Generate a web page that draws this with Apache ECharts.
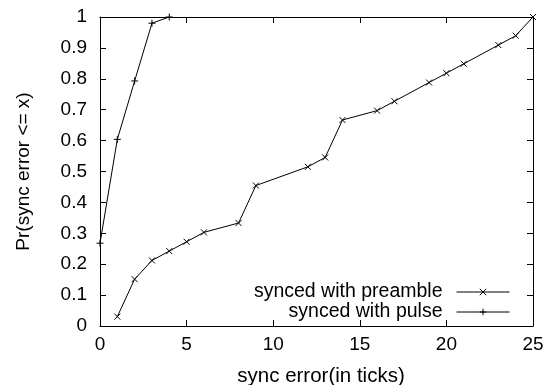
<!DOCTYPE html>
<html>
<head>
<meta charset="utf-8">
<script src="https://cdn.jsdelivr.net/npm/echarts@6/dist/echarts.min.js"></script>
<style>html,body{margin:0;padding:0;background:#fff;}#c{width:548px;height:385px;}</style>
</head>
<body>
<div id="c"></div>
<script>
var xTicks = [0, 5, 10, 15, 20, 25];
var yTicks = [0, 0.1, 0.2, 0.3, 0.4, 0.5, 0.6, 0.7, 0.8, 0.9, 1];
var preambleX = [1, 2, 3, 4, 5, 6, 8, 9, 12, 13, 14, 16, 17, 19, 20, 21, 23, 24, 25];
var preambleY = [0.0303, 0.1515, 0.2121, 0.2424, 0.2727, 0.3030, 0.3333, 0.4545, 0.5152, 0.5455, 0.6667, 0.6970, 0.7273, 0.7879, 0.8182, 0.8485, 0.9091, 0.9394, 1.0];
var pulseX = [0, 1, 2, 3, 4];
var pulseY = [0.268, 0.604, 0.793, 0.98, 1.0];
var seriesNames = ['synced with preamble', 'synced with pulse'];
var xTitle = 'sync error(in ticks)';
var yTitle = 'Pr(sync error <= x)';

function pairs(xs, ys) { return xs.map(function (x, i) { return [x, ys[i]]; }); }

var FONT = 'Liberation Sans';
var FS = 19;
var crossSym = 'path://M0,0L10,10M10,0L0,10';
var plusSym = 'path://M5,0L5,10M0,5L10,5';

var axisCommon = {
  axisLine: { show: true, onZero: false, lineStyle: { color: '#000', width: 1 } },
  axisTick: { show: true, inside: true, length: 6, lineStyle: { color: '#000', width: 1 } },
  splitLine: { show: false }
};

function legendFor(name, top) {
  return {
    orient: 'vertical', right: 38, top: top, align: 'right', padding: 0,
    itemWidth: 53, itemHeight: 8, itemGap: 0,
    data: [name],
    lineStyle: { width: 1, color: '#000' },
    itemStyle: { borderWidth: 1, borderColor: '#000', color: '#000' },
    textStyle: { color: '#000', fontSize: 19.5, fontFamily: FONT, padding: [0, 9, 0, 0] }
  };
}

var chart = echarts.init(document.getElementById('c'), null, { renderer: 'canvas' });
chart.setOption({
  animation: false,
  backgroundColor: '#fff',
  textStyle: { fontFamily: FONT },
  grid: { left: 100, right: 15, top: 17, bottom: 59, containLabel: false, outerBoundsMode: 'none' },
  xAxis: [
    Object.assign({}, axisCommon, {
      type: 'value', min: xTicks[0], max: xTicks[xTicks.length - 1], interval: 5, position: 'bottom',
      axisLabel: { show: true, color: '#000', fontSize: FS, fontFamily: FONT, margin: 9 },
      name: xTitle, nameLocation: 'middle', nameGap: 40,
      nameTextStyle: { color: '#000', fontSize: 20.5, fontFamily: FONT, padding: [0, 0, 0, 9] }
    }),
    Object.assign({}, axisCommon, {
      type: 'value', min: xTicks[0], max: xTicks[xTicks.length - 1], interval: 5, position: 'top',
      axisLabel: { show: false }
    })
  ],
  yAxis: [
    Object.assign({}, axisCommon, {
      type: 'value', min: 0, max: 1, interval: 0.1, position: 'left',
      axisLabel: { show: true, color: '#000', fontSize: FS, fontFamily: FONT, margin: 13,
        formatter: function (v) { return String(Math.round(v * 10) / 10); } },
      name: yTitle, nameLocation: 'middle', nameGap: 67, nameRotate: 90,
      nameTextStyle: { color: '#000', fontSize: FS, fontFamily: FONT }
    }),
    Object.assign({}, axisCommon, {
      type: 'value', min: 0, max: 1, interval: 0.1, position: 'right',
      axisLabel: { show: false }
    })
  ],
  legend: [legendFor(seriesNames[0], 282), legendFor(seriesNames[1], 302)],
  series: [
    {
      name: seriesNames[0], type: 'line', xAxisIndex: 0, yAxisIndex: 0,
      data: pairs(preambleX, preambleY),
      symbol: crossSym, symbolSize: 6, showAllSymbol: true,
      lineStyle: { color: '#000', width: 1 },
      itemStyle: { color: '#000', borderColor: '#000', borderWidth: 1 }
    },
    {
      name: seriesNames[1], type: 'line', xAxisIndex: 0, yAxisIndex: 0,
      data: pairs(pulseX, pulseY),
      symbol: plusSym, symbolSize: 7, showAllSymbol: true,
      lineStyle: { color: '#000', width: 1 },
      itemStyle: { color: '#000', borderColor: '#000', borderWidth: 1 }
    }
  ]
});
</script>
</body>
</html>
